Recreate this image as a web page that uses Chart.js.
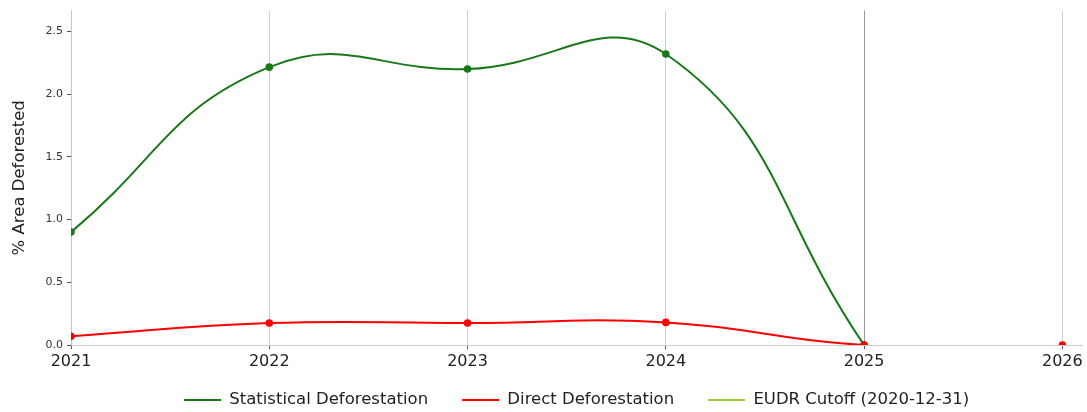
<!DOCTYPE html>
<html>
<head>
<meta charset="utf-8">
<script src="https://cdn.jsdelivr.net/npm/chart.js@4.4.1/dist/chart.umd.min.js"></script>
<style>
    html, body { margin: 0; padding: 0; background: #fff; }
    #wrap { width: 1087px; height: 412px; position: relative; }
</style>
</head>
<body>
<div id="wrap"><canvas id="deforestChart"></canvas></div>
<script>
const years = [2021, 2022, 2023, 2024, 2025, 2026];
const statisticalDeforestation = [0.90, 2.215, 2.20, 2.32, 0.0, null];
const directDeforestation = [0.07, 0.175, 0.175, 0.18, 0.0, 0.0];
const yTicks = [0.0, 0.5, 1.0, 1.5, 2.0, 2.5];
const seriesLabels = ['Statistical Deforestation', 'Direct Deforestation', 'EUDR Cutoff (2020-12-31)'];
const seriesColors = ['#187818', '#ff0000', '#9acd32'];

const FONT = 'DejaVu Sans';
const legendHeight = 20;
const legendPadding = 34;
const legendTextY = 400;
const plotBottom = 345;

// legend sits low under the axis: small box for layout, then move it down
const legendFitPlugin = {
    id: 'legendFit',
    afterInit(chart) {
        const legend = chart.legend;
        const origFit = legend.fit;
        legend.fit = function () {
            origFit.call(this);
            this.height = legendHeight;
        };
    },
    afterLayout(chart) {
        const legend = chart.legend;
        legend.top = legendTextY - 16.5 / 2 - legendPadding;
        legend.bottom = chart.height;
    }
};

function toPoints(values) {
    return years.map((year, i) => ({ x: year, y: values[i] }));
}

// zero-to-zero segments are not visible in the original
function hideFlatZero(color) {
    return ctx => (ctx.p0.parsed.y === 0 && ctx.p1.parsed.y === 0) ? 'rgba(0,0,0,0)' : color;
}

const ctx = document.getElementById('deforestChart').getContext('2d');
const chart = new Chart(ctx, {
    type: 'line',
    data: {
        datasets: [
            {
                label: seriesLabels[0],
                data: toPoints(statisticalDeforestation),
                borderColor: seriesColors[0],
                backgroundColor: seriesColors[0],
                borderWidth: 2,
                pointRadius: 2.8,
                pointHoverRadius: 2.8,
                tension: 0.45,
                spanGaps: false,
                order: 2
            },
            {
                label: seriesLabels[1],
                data: toPoints(directDeforestation),
                borderColor: seriesColors[1],
                backgroundColor: seriesColors[1],
                borderWidth: 2,
                pointRadius: 2.8,
                pointHoverRadius: 2.8,
                tension: 0.45,
                segment: { borderColor: hideFlatZero(seriesColors[1]) },
                order: 1
            },
            {
                label: seriesLabels[2],
                data: [],
                borderColor: seriesColors[2],
                backgroundColor: seriesColors[2],
                borderWidth: 2,
                pointRadius: 0,
                order: 3
            }
        ]
    },
    options: {
        responsive: true,
        maintainAspectRatio: false,
        animation: false,
        layout: { padding: { top: 8, right: 4, left: 0, bottom: 0 } },
        plugins: {
            tooltip: { enabled: false },
            legend: {
                position: 'bottom',
                fullSize: false,
                labels: {
                    usePointStyle: true,
                    pointStyle: 'line',
                    pointStyleWidth: 37,
                    padding: legendPadding,
                    color: '#222',
                    font: { family: FONT, size: 16.5 },
                    sort: (a, b) => a.datasetIndex - b.datasetIndex
                }
            }
        },
        scales: {
            x: {
                type: 'linear',
                min: 2021,
                max: 2026.1,
                afterBuildTicks: axis => { axis.ticks = years.map(v => ({ value: v })); },
                afterFit: scale => { scale.height = 412 - plotBottom - legendHeight; },
                ticks: {
                    callback: v => String(v),
                    color: '#222',
                    padding: 3,
                    font: { family: FONT, size: 16 }
                },
                grid: {
                    color: c => (c.tick && c.tick.value === 2025) ? '#9a9a9a' : '#cfcfcf',
                    lineWidth: 1,
                    tickLength: 4,
                    tickColor: '#555'
                },
                border: { color: '#cccccc', width: 1 }
            },
            y: {
                min: 0,
                max: 2.666,
                afterBuildTicks: axis => { axis.ticks = yTicks.map(v => ({ value: v })); },
                afterFit: scale => { scale.width = 71; },
                ticks: {
                    callback: v => v.toFixed(1),
                    color: '#333',
                    padding: 4,
                    font: { family: FONT, size: 11 }
                },
                grid: {
                    drawOnChartArea: false,
                    tickLength: 4,
                    tickColor: '#555'
                },
                border: { color: '#c4c4c4', width: 1 },
                title: {
                    display: true,
                    text: '% Area Deforested',
                    color: '#222',
                    padding: { top: 10, bottom: 0 },
                    font: { family: FONT, size: 16.5 }
                }
            }
        }
    },
    plugins: [legendFitPlugin]
});
</script>
</body>
</html>
